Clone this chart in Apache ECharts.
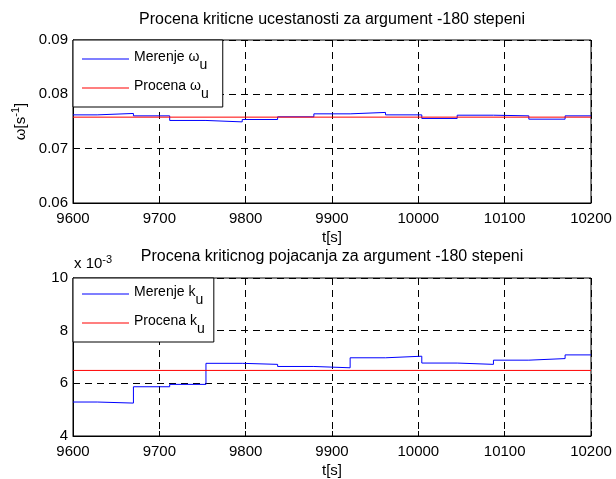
<!DOCTYPE html>
<html>
<head>
<meta charset="utf-8">
<script src="https://cdn.jsdelivr.net/npm/echarts@6/dist/echarts.min.js"></script>
<style>
  html, body { margin: 0; padding: 0; background: #fff; }
  #chart { width: 616px; height: 479px; }
</style>
</head>
<body>
<div id="chart"></div>
<script>
// Start times of each measurement step [s]; the last entry closes the final step.
const stepTimes = [9600, 9628, 9670, 9712, 9754, 9796, 9837, 9879, 9921, 9962, 10004, 10045, 10087, 10128, 10170, 10200];

// Measured critical frequency omega_u [1/s] for each step
const omegaMeasured = [0.07622, 0.07648, 0.07604, 0.07519, 0.07493, 0.07537, 0.07586, 0.07641, 0.07667, 0.07622, 0.07556, 0.07616, 0.07604, 0.07543, 0.07604, 0.07604];
// Estimated critical frequency (constant)
const omegaEstimate = 0.0758;

// Measured critical gain k_u for each step
const gainMeasured = [0.00529, 0.00525, 0.00587, 0.00596, 0.00676, 0.00672, 0.00664, 0.00659, 0.00697, 0.00703, 0.00677, 0.00672, 0.00688, 0.00694, 0.00708, 0.00708];
// Estimated critical gain (constant)
const gainEstimate = 0.00649;

// Axis ranges / ticks
const timeTicks = [9600, 9700, 9800, 9900, 10000, 10100, 10200];
const omegaTicks = [0.06, 0.07, 0.08, 0.09];
const gainTicks = [0.004, 0.006, 0.008, 0.010];

const titles = [
  'Procena kriticne ucestanosti za argument -180 stepeni',
  'Procena kriticnog pojacanja za argument -180 stepeni'
];
// legend names: text before '_' is normal, after it is a subscript
const legendOmega = ['Merenje ω_u', 'Procena ω_u'];
const legendGain = ['Merenje k_u', 'Procena k_u'];

const FONT = '"Liberation Sans", Arial, Helvetica, sans-serif';

const pairs = (xs, ys) => xs.map((x, i) => [x, ys[i]]);
const flat = (v) => [[timeTicks[0], v], [timeTicks[timeTicks.length - 1], v]];

const plotLeft = 73, plotWidth = 518;
const grids = [
  { left: plotLeft, top: 40, width: plotWidth, height: 163 },
  { left: plotLeft, top: 278, width: plotWidth, height: 161 }
];

// rich styles for the legend entries (subscript sits below the baseline)
const legendRich = {
  n: { fontFamily: FONT, fontSize: 14, color: '#000', padding: [0, 0, 4, 0] },
  sub: { fontFamily: FONT, fontSize: 14, color: '#000', padding: [12, 0, 0, 0] }
};
// rich styles for labels with a superscript
const supRich = {
  n: { fontFamily: FONT, fontSize: 15, color: '#000' },
  sup: { fontFamily: FONT, fontSize: 11, color: '#000', padding: [0, 0, 9, 0] }
};

function legendFormatter(name) {
  const [base, sub] = name.split('_');
  return '{n|' + base + '}{sub|' + sub + '}';
}

function xAxisFor(gridIndex) {
  return {
    type: 'value',
    gridIndex,
    min: timeTicks[0],
    max: timeTicks[timeTicks.length - 1],
    interval: timeTicks[1] - timeTicks[0],
    name: 't[s]',
    nameLocation: 'middle',
    nameGap: 27,
    nameTextStyle: { fontFamily: FONT, fontSize: 15, color: '#000' },
    axisLine: { show: true, lineStyle: { color: '#000', width: 1 } },
    axisTick: { show: true, inside: true, length: 5, lineStyle: { color: '#000' } },
    axisLabel: { fontFamily: FONT, fontSize: 15, color: '#000', margin: 8, formatter: v => String(v) },
    splitLine: { show: true, lineStyle: { color: '#000', type: [7, 5], width: 1 } }
  };
}

function yAxisFor(gridIndex, ticks, formatter, extra) {
  return Object.assign({
    type: 'value',
    gridIndex,
    min: ticks[0],
    max: ticks[ticks.length - 1],
    interval: ticks[1] - ticks[0],
    axisLine: { show: true, lineStyle: { color: '#000', width: 1 } },
    axisTick: { show: true, inside: true, length: 5, lineStyle: { color: '#000' } },
    axisLabel: { fontFamily: FONT, fontSize: 15, color: '#000', margin: 5, formatter },
    splitLine: { show: true, lineStyle: { color: '#000', type: [7, 5], width: 1 } }
  }, extra || {});
}

function legendFor(names, top, padding, itemGap) {
  return {
    orient: 'vertical',
    left: plotLeft,
    top,
    data: names,
    padding,
    itemGap,
    itemWidth: 47,
    itemHeight: 1,
    icon: 'rect',
    backgroundColor: '#fff',
    borderColor: '#000',
    borderWidth: 1,
    borderRadius: 0,
    formatter: legendFormatter,
    textStyle: { fontFamily: FONT, fontSize: 14, color: '#000', rich: legendRich },
    selectedMode: false
  };
}

function stepSeries(name, xi, yi, data, color) {
  return {
    name, type: 'line', xAxisIndex: xi, yAxisIndex: yi,
    step: 'end', showSymbol: false, symbol: 'none',
    data, lineStyle: { color, width: 1 }, itemStyle: { color },
    animation: false
  };
}

const chart = echarts.init(document.getElementById('chart'), null, { renderer: 'canvas' });

chart.setOption({
  backgroundColor: '#fff',
  animation: false,
  title: titles.map((t, i) => ({
    text: t,
    left: plotLeft + plotWidth / 2,
    textAlign: 'center',
    top: i === 0 ? 12 : 249,
    padding: 0,
    textStyle: { fontFamily: FONT, fontSize: 16, fontWeight: 'normal', color: '#000' }
  })),
  grid: grids.map(g => Object.assign({ show: true, borderColor: '#000', borderWidth: 1, backgroundColor: '#fff' }, g)),
  xAxis: [xAxisFor(0), xAxisFor(1)],
  yAxis: [
    yAxisFor(0, omegaTicks, v => v.toFixed(2), {
      name: '{n|ω[s}{sup|-1}{n|]}',
      nameLocation: 'middle',
      nameGap: 40,
      nameRotate: 90,
      nameTextStyle: { fontFamily: FONT, fontSize: 15, color: '#000', rich: supRich }
    }),
    yAxisFor(1, gainTicks, v => String(Math.round(v * 1000)))
  ],
  legend: [
    legendFor(legendOmega, 40, [10, 14, 6, 9], 7),
    legendFor(legendGain, 278, [7, 9, 6, 9], 7)
  ],
  graphic: [{
    type: 'text',
    left: plotLeft + 1,
    top: 254,
    style: {
      text: '{n|x 10}{sup|-3}',
      rich: supRich,
      fill: '#000'
    }
  }],
  series: [
    stepSeries(legendOmega[0], 0, 0, pairs(stepTimes, omegaMeasured), '#0000ff'),
    stepSeries(legendOmega[1], 0, 0, flat(omegaEstimate), '#ff0000'),
    stepSeries(legendGain[0], 1, 1, pairs(stepTimes, gainMeasured), '#0000ff'),
    stepSeries(legendGain[1], 1, 1, flat(gainEstimate), '#ff0000')
  ]
});
</script>
</body>
</html>
